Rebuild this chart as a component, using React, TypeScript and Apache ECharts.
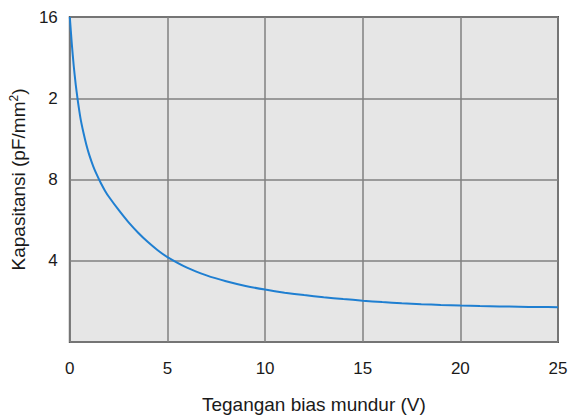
import React, { useEffect, useRef } from "react";
import * as echarts from "echarts";

const voltages = [0, 0.1, 0.2, 0.3, 0.4, 0.55, 0.7, 0.85, 1.0, 1.2, 1.4, 1.6, 1.8, 2.0, 2.5, 3.0, 3.5, 4.0, 4.5, 5, 6, 7, 8, 9, 10, 11, 12, 13, 14, 15, 16, 17, 18, 19, 20, 21, 22, 23, 24, 25];
const capacitance = [16, 14.7, 13.6, 12.7, 11.95, 11.0, 10.3, 9.7, 9.2, 8.65, 8.2, 7.8, 7.45, 7.15, 6.5, 5.9, 5.38, 4.92, 4.52, 4.18, 3.66, 3.28, 2.99, 2.76, 2.58, 2.43, 2.31, 2.205, 2.115, 2.035, 1.965, 1.905, 1.86, 1.825, 1.795, 1.77, 1.75, 1.735, 1.722, 1.712];
const yTickValues = [0, 4, 8, 12, 16];
const yTickLabels = ["", "4", "8", "2", "16"];
const xTickLabels = ["0", "5", "10", "15", "20", "25"];

export default function App() {
  const ref = useRef<HTMLDivElement>(null);
  useEffect(() => {
    if (!ref.current) return;
    const chart = echarts.init(ref.current, null, { renderer: "svg" });
    const font = "Liberation Sans";
    const textColor = "#1a1a1a";
    chart.setOption({
      animation: false,
      backgroundColor: "#ffffff",
      grid: {
        left: 65,
        right: 13,
        top: 17,
        bottom: 71,
        show: true,
        backgroundColor: "#e6e6e6",
        borderColor: "#555555",
        borderWidth: 2,
      },
      xAxis: {
        type: "value",
        min: 0,
        max: 25,
        interval: 5,
        name: "Tegangan bias mundur (V)",
        nameLocation: "middle",
        nameGap: 53,
        nameTextStyle: { fontFamily: font, fontSize: 19, color: textColor },
        axisLine: { show: false },
        axisTick: { show: false },
        axisLabel: {
          margin: 18,
          fontFamily: font,
          fontSize: 17,
          color: textColor,
          formatter: (v: number) => xTickLabels[Math.round(v / 5)] ?? "",
        },
        splitLine: { show: true, lineStyle: { color: "#808080", width: 1.5 } },
      },
      yAxis: {
        type: "value",
        min: 0,
        max: 16,
        interval: 4,
        name: "Kapasitansi (pF/mm{sup|2})",
        nameLocation: "middle",
        nameGap: 28,
        nameRotate: 90,
        nameTextStyle: {
          fontFamily: font,
          fontSize: 19,
          color: textColor,
          rich: { sup: { fontFamily: font, fontSize: 12, color: textColor, verticalAlign: "top", padding: [0, 0, 9, 0] } },
        },
        axisLine: { show: false },
        axisTick: { show: false },
        axisLabel: {
          margin: 12,
          fontFamily: font,
          fontSize: 17,
          color: textColor,
          formatter: (v: number) => {
            const i = yTickValues.indexOf(v);
            return i >= 0 ? yTickLabels[i] : "";
          },
        },
        splitLine: { show: true, lineStyle: { color: "#808080", width: 1.5 } },
      },
      series: [
        {
          type: "line",
          data: voltages.map((v, i) => [v, capacitance[i]]),
          showSymbol: false,
          smooth: 0.2,
          lineStyle: { color: "#1f7fd1", width: 2 },
        },
      ],
    });
    return () => chart.dispose();
  }, []);
  return <div ref={ref} style={{ position: "fixed", left: 0, top: 0, width: 571, height: 419 }} />;
}
